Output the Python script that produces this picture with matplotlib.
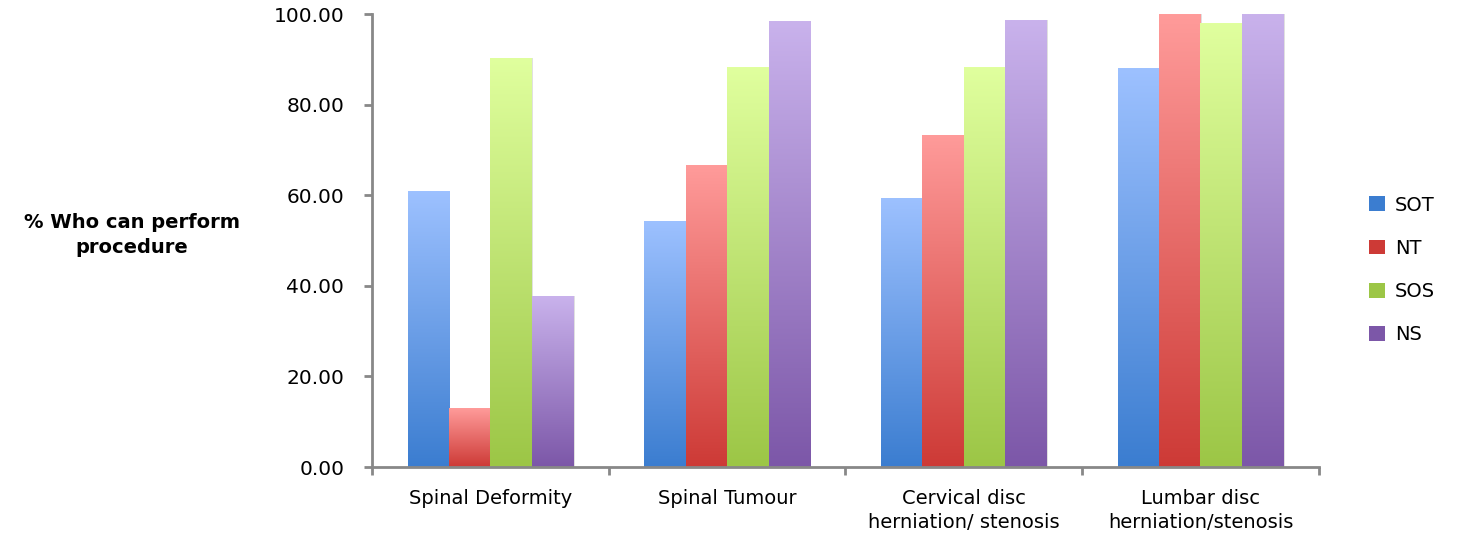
import numpy as np
import matplotlib
matplotlib.use("Agg")
import matplotlib.pyplot as plt
from matplotlib.colors import LinearSegmentedColormap
from matplotlib.patches import Patch

plt.rcParams['font.family'] = ['DejaVu Sans']

categories = ['Spinal Deformity', 'Spinal Tumour', 'Cervical disc\nherniation/ stenosis',
              'Lumbar disc\nherniation/stenosis']
series = ['SOT', 'NT', 'SOS', 'NS']
sot = [60.9, 54.4, 59.4, 88.0]
nt = [13.0, 66.6, 73.3, 100.0]
sos = [90.4, 88.2, 88.2, 98.0]
ns = [37.7, 98.4, 98.6, 100.0]
values = [sot, nt, sos, ns]

# gradient colours (bottom, top) per series
grad = [('#3b7dd0', '#9dc1ff'),
        ('#cd3a36', '#ff9b9a'),
        ('#9cc646', '#e0ff9e'),
        ('#7c57a8', '#c9b2ec')]

fig = plt.figure(figsize=(14.84, 5.33), dpi=100)
ax = fig.add_axes([0.2507, 0.1238, 0.638, 0.8499])

x = np.arange(len(categories))
w = 0.175
for i, vals in enumerate(values):
    off = (i - 1.5) * w
    bars = ax.bar(x + off, vals, w, color='none', edgecolor='none', zorder=2)
    cmap = LinearSegmentedColormap.from_list('g%d' % i, [grad[i][0], grad[i][1]])
    for b in bars:
        bx = b.get_x()
        bw, bh = b.get_width(), b.get_height()
        # soft shadow
        ax.add_patch(plt.Rectangle((bx + 0.006, 0), bw, bh, color='#bbbbbb',
                                   alpha=0.45, zorder=1, lw=0))
        img = ax.imshow(np.linspace(0, 1, 256).reshape(-1, 1), cmap=cmap,
                        extent=[bx, bx + bw, 0, bh], origin='lower',
                        aspect='auto', zorder=2)
        img.set_clip_path(b)

ax.set_xlim(-0.5, len(categories) - 0.5)
ax.set_ylim(0, 100)
ax.set_yticks(np.arange(0, 101, 20))
ax.set_yticklabels(['%.2f' % v for v in np.arange(0, 101, 20)], fontsize=14.5)

ax.set_xticks(np.arange(-0.5, len(categories), 1.0))
ax.set_xticklabels([])
ax.set_xticks(x, minor=True)
ax.set_xticklabels(categories, minor=True, fontsize=14, linespacing=1.3)
ax.tick_params(axis='x', which='minor', length=0, pad=16)
ax.tick_params(axis='x', which='major', length=6, width=2, color='#888888')
ax.tick_params(axis='y', length=6, width=2, color='#888888', pad=14)

for s in ['top', 'right']:
    ax.spines[s].set_visible(False)
for s in ['left', 'bottom']:
    ax.spines[s].set_color('#888888')
    ax.spines[s].set_linewidth(2)

fig.text(0.089, 0.56, '% Who can perform\nprocedure', ha='center', va='center',
         fontsize=14, fontweight='bold', linespacing=1.4)

handles = [Patch(facecolor=grad[i][0], edgecolor='none') for i in range(4)]
fig.legend(handles, series, loc='center left', bbox_to_anchor=(0.911, 0.4935),
           frameon=False, fontsize=14, labelspacing=1.25, handlelength=0.8,
           handleheight=0.8, handletextpad=0.5)

fig.savefig('out.png', dpi=100)
